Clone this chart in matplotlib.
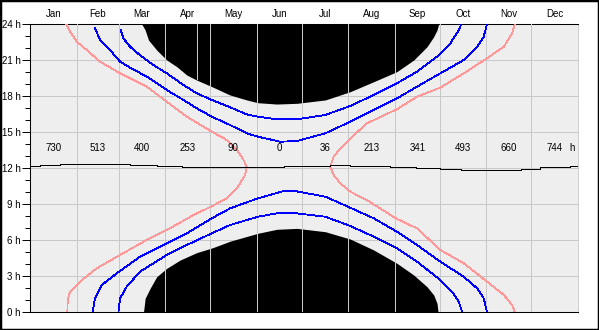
import matplotlib
matplotlib.use("Agg")
import matplotlib.pyplot as plt
from matplotlib.patches import Rectangle

plt.rcParams['font.family'] = ['Liberation Sans', 'DejaVu Sans']
plt.rcParams['lines.antialiased'] = False

months = ["Jan", "Feb", "Mar", "Apr", "May", "Jun", "Jul", "Aug", "Sep", "Oct", "Nov", "Dec"]
month_start = [0, 31, 59, 90, 120, 151, 181, 212, 243, 273, 304, 334, 365]
monthly_hours = [730, 513, 400, 253, 90, 0, 36, 213, 341, 493, 660, 744]
hour_ticks = [0, 3, 6, 9, 12, 15, 18, 21, 24]

# Night (black) region: upper boundary (evening) and lower boundary (morning)
night_top_days = [74.4, 76.7, 78.9, 84.4, 91.1, 97.8, 104.4, 111.0, 121.1, 133.3, 144.4, 151.8,
                  164.4, 177.8, 196.7, 213.3, 228.9, 244.4, 255.6, 264.4, 268.9, 271.1, 272.2]
night_top_hours = [24.0, 23.5, 22.67, 21.83, 21.0, 20.44, 19.75, 19.33, 18.78, 18.08, 17.67, 17.44,
                   17.33, 17.39, 17.67, 18.36, 19.19, 20.03, 21.0, 22.1, 22.94, 23.5, 24.0]
night_bot_days = [75.6, 76.7, 80.0, 84.4, 91.1, 100.0, 111.1, 121.1, 133.3, 151.8, 164.4, 177.8,
                  196.7, 213.3, 228.9, 244.4, 255.6, 264.4, 268.9, 271.1, 271.8]
night_bot_hours = [0.0, 1.14, 1.97, 2.94, 3.64, 4.33, 4.95, 5.33, 5.9, 6.56, 6.89, 6.97,
                   6.69, 6.08, 5.17, 4.06, 3.08, 2.11, 1.42, 0.72, 0.0]
night_gap_day = 111.0

# Inner blue curve
blue1_top_days = [60.4, 62.2, 66.7, 73.3, 82.2, 91.1, 102.2, 111.1, 121.1, 133.3, 144.4, 151.8,
                  164.4, 177.8, 196.7, 213.3, 228.9, 244.4, 257.8, 271.1, 280.0, 285.6, 287.3]
blue1_top_hours = [23.5, 22.8, 22.1, 21.4, 20.58, 19.89, 18.92, 18.22, 17.67, 17.06, 16.47, 16.28,
                   16.06, 16.06, 16.42, 17.17, 18.08, 19.06, 20.03, 21.28, 22.39, 23.5, 24.0]
blue1_bot_days = [58.9, 60.0, 64.4, 73.3, 91.1, 104.4, 121.1, 133.3, 151.8, 164.4, 177.8, 196.7,
                  213.3, 228.9, 244.4, 257.8, 273.3, 281.1, 285.6, 287.8]
blue1_bot_hours = [0.0, 1.14, 2.11, 3.36, 4.75, 5.58, 6.56, 7.25, 7.94, 8.22, 8.22, 7.94,
                   7.17, 6.28, 5.31, 4.19, 2.67, 1.69, 0.86, 0.0]

# Outer blue curve
blue2_top_days = [43.3, 46.7, 53.3, 60.0, 66.7, 77.8, 91.1, 102.2, 111.1, 121.1, 133.3, 144.4, 151.8,
                  166.7, 177.8, 196.7, 213.3, 228.9, 244.4, 257.8, 273.3, 288.9, 297.8, 302.2, 304.4]
blue2_top_hours = [23.64, 22.67, 21.83, 20.86, 20.36, 19.61, 18.5, 17.67, 16.97, 16.28, 15.58, 14.89, 14.61,
                   14.19, 14.25, 14.89, 15.86, 16.83, 17.8, 18.78, 19.89, 21.0, 22.1, 22.94, 24.0]
blue2_bot_days = [41.8, 43.3, 47.8, 57.8, 73.3, 91.1, 104.4, 121.1, 133.3, 151.8, 168.9, 177.8,
                  196.7, 213.3, 228.9, 244.4, 257.8, 273.3, 288.9, 297.8, 302.2, 304.4]
blue2_bot_hours = [0.0, 1.14, 2.25, 3.22, 4.61, 5.72, 6.56, 7.81, 8.64, 9.47, 10.08, 10.05,
                   9.61, 8.69, 7.81, 6.69, 5.58, 4.19, 2.94, 1.97, 1.14, 0.0]

# Pink curves (left and right branches)
pink_left_days = [24.0, 26.7, 31.1, 37.8, 46.7, 60.0, 77.8, 91.1, 104.4, 121.1, 131.1, 137.8, 142.2, 144.4,
                  143.3, 137.8, 131.1, 121.1, 108.9, 91.1, 75.6, 60.0, 44.4, 33.3, 26.7, 25.1, 24.9]
pink_left_hours = [24.0, 23.36, 22.53, 21.83, 20.86, 19.89, 18.78, 17.53, 16.28, 15.03, 14.33, 13.5, 12.67, 12.1,
                   11.42, 10.31, 9.47, 8.82, 8.08, 6.83, 5.86, 4.75, 3.64, 2.53, 1.69, 1.0, 0.0]
pink_right_days = [322.9, 321.1, 315.6, 304.4, 288.9, 273.3, 257.8, 244.4, 224.4, 213.3, 206.7, 202.2, 200.0,
                   202.2, 206.7, 213.3, 224.4, 244.4, 257.8, 273.3, 288.9, 304.4, 315.6, 321.1, 322.9]
pink_right_hours = [24.0, 23.22, 22.11, 21.14, 19.89, 18.7, 17.94, 16.9, 15.72, 14.47, 13.64, 12.94, 12.11,
                    11.42, 10.72, 10.03, 9.33, 7.75, 6.97, 5.17, 4.06, 2.53, 1.42, 0.58, 0.0]

# Solar noon line
noon_days = [0, 6.7, 6.7, 20, 20, 66.7, 66.7, 84.7, 84.7, 101, 101, 169, 169, 200, 200, 213, 213, 240,
             240, 257, 257, 273, 273, 287, 287, 327, 327, 340, 340, 360, 360, 365]
noon_hours = [12.14, 12.14, 12.25, 12.25, 12.33, 12.33, 12.25, 12.25, 12.17, 12.17, 12.08, 12.08, 12.17, 12.17,
              12.25, 12.25, 12.17, 12.17, 12.06, 12.06, 11.97, 11.97, 11.89, 11.89, 11.81, 11.81, 11.89, 11.89,
              12.06, 12.06, 12.17, 12.17]

BG = "#eeeeee"
GRID = "#c8c8c8"
BLUE = "#0000ff"
PINK = "#ff9999"

W, H = 599, 330
fig = plt.figure(figsize=(W / 100, H / 100), dpi=100)
ax = fig.add_axes([30 / W, 18 / H, 548 / W, 288 / H])
ax.set_facecolor(BG)
ax.set_xlim(0, 365)
ax.set_ylim(0, 24)

lw = 0.6

# horizontal grid (beneath night)
for h in hour_ticks[1:-1]:
    ax.axhline(h, color=GRID, lw=lw, zorder=1)

# night
ax.fill_between(night_top_days, night_top_hours, 24, color="black", lw=0, zorder=2)
ax.fill_between(night_bot_days, 0, night_bot_hours, color="black", lw=0, zorder=2)
ax.vlines(night_gap_day, 19.4, 24, color=GRID, lw=lw, zorder=3)

# vertical grid (above night)
for d in month_start[1:-1]:
    ax.axvline(d, color=GRID, lw=lw, zorder=3)

ax.plot(blue1_top_days, blue1_top_hours, color=BLUE, lw=lw, zorder=4)
ax.plot(blue1_bot_days, blue1_bot_hours, color=BLUE, lw=lw, zorder=4)
ax.plot(blue2_top_days, blue2_top_hours, color=BLUE, lw=lw, zorder=4)
ax.plot(blue2_bot_days, blue2_bot_hours, color=BLUE, lw=lw, zorder=4)
ax.plot(pink_left_days, pink_left_hours, color=PINK, lw=lw, zorder=4)
ax.plot(pink_right_days, pink_right_hours, color=PINK, lw=lw, zorder=4)
ax.plot(noon_days, noon_hours, color="black", lw=lw, zorder=5)

centers = [(month_start[i] + month_start[i + 1]) / 2 for i in range(12)]
fs = 7
for c, v in zip(centers, monthly_hours):
    ax.text(c, 13.67, str(v), ha="center", va="center", fontsize=fs, zorder=6)
ax.text(361, 13.67, "h", ha="center", va="center", fontsize=fs, zorder=6)

# month labels on top
ax.set_xticks(centers)
ax.set_xticklabels(months, fontsize=fs)
ax.xaxis.set_ticks_position("top")
ax.tick_params(axis="x", length=0, pad=3.5)

ax.set_yticks(hour_ticks)
ax.set_yticklabels([f"{h} h" for h in hour_ticks], fontsize=fs)
ax.set_yticks(range(25), minor=True)
ax.tick_params(axis="y", which="major", length=5.8, width=0.7, pad=1, direction="out")
ax.tick_params(axis="y", which="minor", length=3.6, width=0.7, direction="out")

for s in ["left", "top", "bottom"]:
    ax.spines[s].set_color("black")
    ax.spines[s].set_linewidth(0.75)
ax.spines["right"].set_color(GRID)
ax.spines["right"].set_linewidth(lw)

fig.patches.append(Rectangle((0, 0), 1, 1, transform=fig.transFigure, fill=False,
                             edgecolor="black", lw=2.5))

fig.savefig("out.png", dpi=100, facecolor="white")
